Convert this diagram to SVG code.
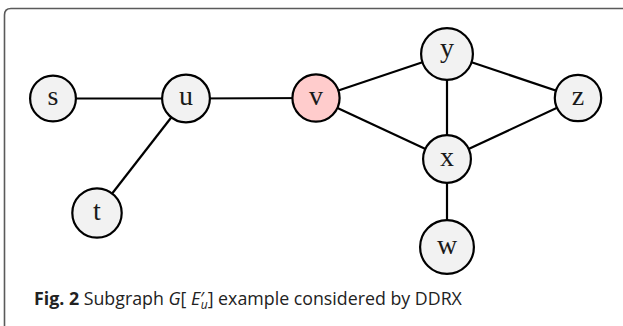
<svg xmlns="http://www.w3.org/2000/svg" width="623" height="326" viewBox="0 0 623 326">
<style>
.node circle{fill:#f2f2f2;stroke:#000;stroke-width:2.2}
.node.hl circle{fill:#ffcccc}
.node text{font-family:"Liberation Serif","DejaVu Serif",serif;font-size:28px;text-anchor:middle;fill:#1a1a1a}
#edges line{stroke:#000;stroke-width:2.2}
.cap{font-family:"Open Sans","Noto Sans",sans-serif;font-size:17.8px;fill:#222}
</style>
<rect width="623" height="326" fill="#fff"/>
<path d="M4.5,326 V15 Q4.5,8.5 11,8.5 H623" fill="none" stroke="#5a5a5a" stroke-width="1.6"/>
<g id="edges">
<line x1="53" y1="98.5" x2="186" y2="98.5"/>
<line x1="186" y1="98.5" x2="97" y2="213"/>
<line x1="186" y1="98.5" x2="316" y2="98"/>
<line x1="316" y1="98" x2="447" y2="54"/>
<line x1="316" y1="98" x2="447" y2="159"/>
<line x1="447" y1="54" x2="447" y2="159"/>
<line x1="447" y1="54" x2="578" y2="98"/>
<line x1="578" y1="98" x2="447" y2="159"/>
<line x1="447" y1="159" x2="447" y2="247"/>
</g>
<g id="node-s" class="node"><circle cx="53" cy="98.5" r="22.9"/><text x="53" y="105">s</text></g>
<g id="node-u" class="node"><circle cx="186" cy="98.5" r="23.9"/><text x="186" y="105">u</text></g>
<g id="node-t" class="node"><circle cx="97" cy="213" r="24.7"/><text x="97" y="220">t</text></g>
<g id="node-v" class="node hl"><circle cx="316" cy="98" r="23.6"/><text x="316" y="104.5">v</text></g>
<g id="node-y" class="node"><circle cx="447" cy="54" r="25.9"/><text x="447" y="57">y</text></g>
<g id="node-z" class="node"><circle cx="578" cy="98" r="23.2"/><text x="578" y="104.5">z</text></g>
<g id="node-x" class="node"><circle cx="447" cy="159" r="23.9"/><text x="447" y="165.5">x</text></g>
<g id="node-w" class="node"><circle cx="447" cy="247" r="26.9"/><text x="447" y="253.5">w</text></g>
<text class="cap" x="34" y="305"><tspan font-weight="bold">Fig. 2</tspan> Subgraph <tspan font-style="italic">G</tspan>[ <tspan font-style="italic">E</tspan>′<tspan font-style="italic" font-size="12" dx="-3.5" dy="4">u</tspan><tspan dy="-4">] example considered by DDRX</tspan></text>
</svg>
